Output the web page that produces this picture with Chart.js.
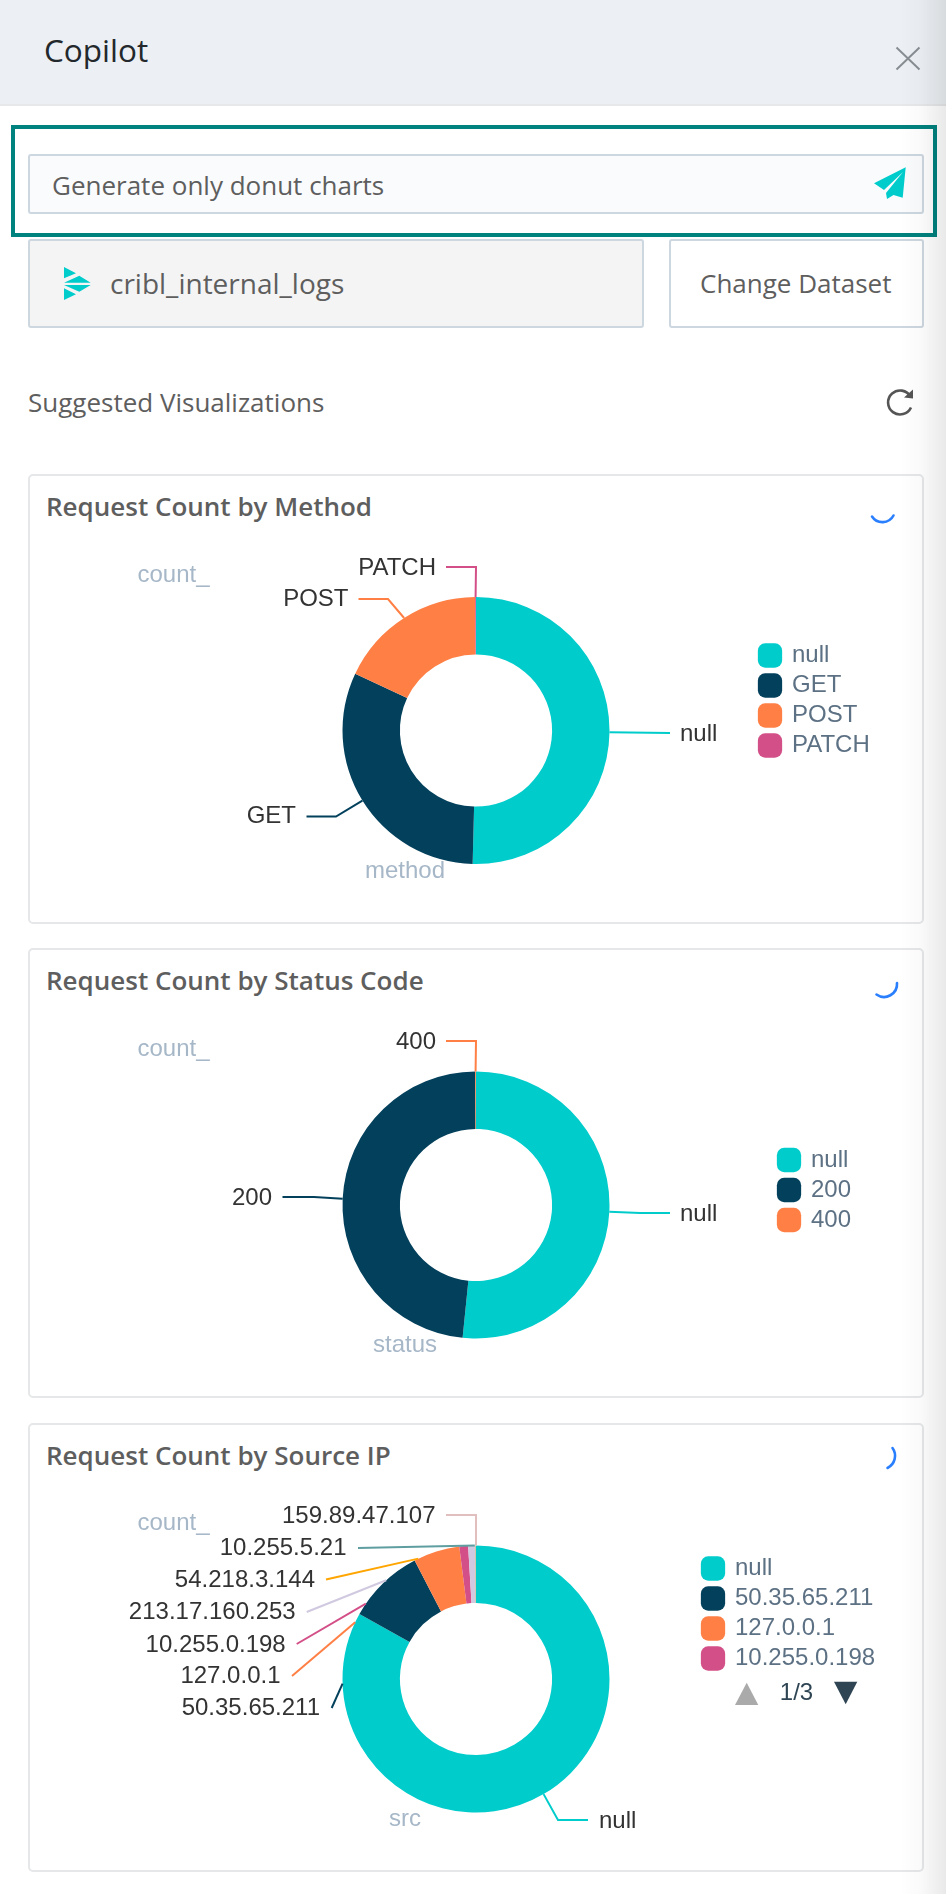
<!DOCTYPE html>
<html>
<head>
<meta charset="utf-8">
<title>Copilot</title>
<script src="https://cdn.jsdelivr.net/npm/chart.js@4"></script>
<style>
html,body{margin:0;padding:0;background:#fff;width:946px;height:1894px;overflow:hidden;font-family:"Open Sans",sans-serif}
.a{position:absolute;white-space:nowrap}
.box{box-sizing:border-box;position:absolute}
.card{box-sizing:border-box;position:absolute;left:28px;width:896px;background:#fff;border:2px solid #e5e7e9;border-radius:5px}
.title{position:absolute;left:46px;font-size:26px;font-weight:600;color:#5e5e5e;line-height:32px;white-space:nowrap}
canvas.c{position:absolute;left:28px}
svg{position:absolute;left:0;top:0}
</style>
</head>
<body>
<div class="box" style="left:0;top:0;width:946px;height:106px;background:#ecf0f4;border-bottom:2px solid #e6e8ea"></div>
<div class="a" style="left:44px;top:29px;font-size:31.5px;line-height:42px;color:#23282c">Copilot</div>

<div class="box" style="left:11px;top:125px;width:926px;height:112px;border:4px solid #00827e"></div>
<div class="box" style="left:28px;top:154px;width:896px;height:60px;background:#f9fbfd;border:2px solid #cdd7e0;border-radius:3px"></div>
<div class="a" style="left:52px;top:168px;font-size:26px;line-height:34px;color:#5e5e5e">Generate only donut charts</div>

<div class="box" style="left:28px;top:239px;width:616px;height:89px;background:#f4f4f5;border:2px solid #cdd7e0;border-radius:3px"></div>
<div class="a" style="left:110px;top:266px;font-size:28px;line-height:34px;color:#5e5e5e">cribl_internal_logs</div>
<div class="box" style="left:669px;top:239px;width:255px;height:89px;background:#fff;border:2px solid #cdd7e0;border-radius:3px"></div>
<div class="a" style="left:700px;top:266px;font-size:26px;line-height:34px;color:#5e5e5e">Change Dataset</div>
<div class="a" style="left:28px;top:385px;font-size:26px;line-height:34px;color:#5e5e5e">Suggested Visualizations</div>

<div class="card" style="top:474px;height:450px"></div>
<div class="title" style="top:490px">Request Count by Method</div>
<div class="card" style="top:948px;height:450px"></div>
<div class="title" style="top:964px">Request Count by Status Code</div>
<div class="card" style="top:1423px;height:449px"></div>
<div class="title" style="top:1439px">Request Count by Source IP</div>

<canvas class="c" id="chartMethod" width="896" height="449" style="top:474px;width:896px;height:449px"></canvas>
<canvas class="c" id="chartStatus" width="896" height="449" style="top:948px;width:896px;height:449px"></canvas>
<canvas class="c" id="chartSource" width="896" height="448" style="top:1423px;width:896px;height:448px"></canvas>

<svg width="946" height="1894" viewBox="0 0 946 1894" fill="none">
  <path d="M896.5 47.5L919.5 69.5M919.5 47.5L896.5 69.5" stroke="#878d93" stroke-width="2"/>
  <path d="M905.7 167.3L874 183.3L884 190L903 172L886 193L887 199L893.5 195L902.7 197.7Z" fill="#00cccc"/>
  <path d="M64 267L76 273.3L64 278.3Z M64 282.7L79.3 275.7L90.7 282.7Z M64 285L90.7 285L79.3 291.7Z M64 288.3L76 294.3L64 300Z" fill="#00cccc"/>
  <path d="M910.5 396.5A12 12 0 1 0 911 407.5" stroke="#555" stroke-width="2.6"/>
  <path d="M913 389.5L913 398.5L904 397.5Z" fill="#555"/>
  <path d="M872 516.5A12.5 12.5 0 0 0 893.5 515.5" stroke="#2a7fff" stroke-width="2.6" stroke-linecap="round"/>
  <path d="M897 983A13 13 0 0 1 876.5 994.5" stroke="#2a7fff" stroke-width="2.6" stroke-linecap="round"/>
  <path d="M892.5 1448A13.5 13.5 0 0 1 887.5 1468" stroke="#2a7fff" stroke-width="2.6" stroke-linecap="round"/>
</svg>
<div class="box" style="left:900px;top:0;width:46px;height:1894px;background:linear-gradient(to right,rgba(0,0,0,0),rgba(0,0,0,.02) 45%,rgba(0,0,0,.085));pointer-events:none"></div>

<script>
// ---- data ----
const methodLabels = ['null', 'GET', 'POST', 'PATCH'];
const methodValues = [504, 316, 179, 1];

const statusLabels = ['null', '200', '400'];
const statusValues = [516, 483, 1];

const sourceLabels = ['null', '50.35.65.211', '127.0.0.1', '10.255.0.198', '213.17.160.253', '54.218.3.144', '10.255.5.21', '159.89.47.107'];
const sourceValues = [8310, 930, 560, 106, 86, 4, 3, 1];
const sourceLegendPage = ['null', '50.35.65.211', '127.0.0.1', '10.255.0.198'];
const sourcePager = '1/3';

// ---- styles ----
const palette = ['#00cccc', '#03405c', '#ff7f45', '#d34f87', '#d0c9e0', '#ffa500', '#5f9ea0', '#e2bfbf'];
const FONT = '"Liberation Sans", Arial, sans-serif';

// ---- layout (page coordinates) ----
const methodLayout = {
  top: 474, cy: 730.5, axisName: 'method', axisY: 871, countY: 575.5, legend: {cx: 770, cy: 655.5},
  labels: [
    {x: 680, y: 734, align: 'left',  path: [[670, 733]]},
    {x: 296, y: 816, align: 'right', path: [[336, 816.5], [306.5, 816.5]]},
    {x: 348.5, y: 599, align: 'right', path: [[388, 599], [358.5, 599]]},
    {x: 436, y: 568, align: 'right', path: [[476, 567], [446, 567]]}
  ]
};
const statusLayout = {
  top: 948, cy: 1205, axisName: 'status', axisY: 1345.5, countY: 1049, legend: {cx: 789, cy: 1160},
  labels: [
    {x: 680, y: 1214, align: 'left',  path: [[640, 1213], [670, 1213]]},
    {x: 272, y: 1198, align: 'right', path: [[314, 1197], [282.5, 1197]]},
    {x: 436, y: 1042, align: 'right', path: [[476, 1041], [446, 1041]]}
  ]
};
const sourceLayout = {
  top: 1423, cy: 1679, axisName: 'src', axisY: 1819, countY: 1523.5, legend: {cx: 713, cy: 1568.5},
  pager: {up: [[746.7, 1682.7], [735, 1705], [758.3, 1705]], down: [[834, 1681.7], [857.3, 1681.7], [845.7, 1704.3]], textX: 796.5, textY: 1693.5},
  labels: [
    {x: 599, y: 1821, align: 'left',  path: [[558, 1820], [588, 1820]]},
    {x: 320, y: 1708, align: 'right', anchorDeg: 268, path: [[331.7, 1708]]},
    {x: 280.5, y: 1676.5, align: 'right', anchorDeg: 295.2, path: [[292, 1676]]},
    {x: 285.7, y: 1645, align: 'right', anchorDeg: 304.4, path: [[296.7, 1644]]},
    {x: 295.7, y: 1612, align: 'right', anchorDeg: 317.7, path: [[306.7, 1612]]},
    {x: 315, y: 1580, align: 'right', anchorDeg: 334.4, path: [[326, 1579.5]]},
    {x: 346.5, y: 1548, align: 'right', anchorDeg: 359.5, path: [[358, 1548]]},
    {x: 435.5, y: 1516, align: 'right', anchorDeg: 360, path: [[476, 1515], [446, 1515]]}
  ]
};

const CANVAS_LEFT = 28, OUTER_R = 133.5, CX = 476, CANVAS_W = 896;

const annotate = {
  id: 'annotate',
  beforeDraw(chart, args, o) {
    // pin the library legend where the reference has it
    const l = chart.legend, p = l.options.labels.padding, fs = l.options.labels.font.size;
    l.left = o.layout.legend.cx - CANVAS_LEFT - 10 - p;
    l.top = o.layout.legend.cy - o.layout.top - fs / 2 - p;
    l.width = 300; l.height = 200;
    l.right = l.left + 300; l.bottom = l.top + 200;
  },
  afterDraw(chart, args, o) {
    const ctx = chart.ctx, L = o.layout, meta = chart.getDatasetMeta(0);
    const ox = CANVAS_LEFT, oy = L.top;
    ctx.save();
    ctx.textBaseline = 'middle';
    chart.data.labels.forEach((name, i) => {
      const arc = meta.data[i], spec = L.labels[i];
      const {x, y, startAngle, endAngle, outerRadius} = arc.getProps(['x', 'y', 'startAngle', 'endAngle', 'outerRadius'], true);
      const ang = spec.anchorDeg != null ? (spec.anchorDeg - 90) * Math.PI / 180 : (startAngle + endAngle) / 2;
      ctx.beginPath();
      ctx.moveTo(x + outerRadius * Math.cos(ang), y + outerRadius * Math.sin(ang));
      spec.path.forEach(pt => ctx.lineTo(pt[0] - ox, pt[1] - oy));
      ctx.lineWidth = 2;
      ctx.strokeStyle = palette[i];
      ctx.stroke();
      ctx.font = '24px ' + FONT;
      ctx.fillStyle = '#333';
      ctx.textAlign = spec.align;
      ctx.fillText(name, spec.x - ox, spec.y - oy);
    });
    ctx.font = '24px ' + FONT;
    ctx.fillStyle = '#a6b7c8';
    ctx.textAlign = 'left';
    ctx.fillText('count_', 137.5 - ox, L.countY - oy);
    ctx.textAlign = 'center';
    ctx.fillText(L.axisName, 405 - ox, L.axisY - oy);
    if (L.pager) {
      const tri = (pts, col) => {
        ctx.beginPath();
        pts.forEach((pt, k) => k ? ctx.lineTo(pt[0] - ox, pt[1] - oy) : ctx.moveTo(pt[0] - ox, pt[1] - oy));
        ctx.closePath(); ctx.fillStyle = col; ctx.fill();
      };
      tri(L.pager.up, '#aaaaaa');
      tri(L.pager.down, '#2f4554');
      ctx.font = '24px ' + FONT;
      ctx.fillStyle = '#2f4554';
      ctx.textAlign = 'center';
      ctx.fillText(sourcePager, L.pager.textX - ox, L.pager.textY - oy);
    }
    ctx.restore();
  }
};

function donut(id, labels, values, layout, legendItems) {
  const cv = document.getElementById(id), h = cv.height;
  const cyRel = layout.cy - layout.top;
  return new Chart(cv, {
    type: 'doughnut',
    data: {labels, datasets: [{data: values, backgroundColor: palette.slice(0, values.length), borderWidth: 0}]},
    plugins: [annotate],
    options: {
      responsive: false, animation: false, cutout: '57%',
      layout: {padding: {
        left: CX - CANVAS_LEFT - OUTER_R,
        right: CANVAS_W - (CX - CANVAS_LEFT) - OUTER_R,
        top: cyRel - OUTER_R,
        bottom: h - cyRel - OUTER_R
      }},
      plugins: {
        tooltip: {enabled: false},
        annotate: {layout},
        legend: {
          display: true, position: 'chartArea', align: 'start',
          labels: {
            usePointStyle: true, pointStyle: 'rectRounded',
            boxWidth: 20, boxHeight: 20, padding: 6,
            color: '#5d7184', font: {family: FONT, size: 24},
            filter: item => !legendItems || legendItems.includes(item.text)
          }
        }
      }
    }
  });
}

donut('chartMethod', methodLabels, methodValues, methodLayout);
donut('chartStatus', statusLabels, statusValues, statusLayout);
donut('chartSource', sourceLabels, sourceValues, sourceLayout, sourceLegendPage);
</script>
</body>
</html>
